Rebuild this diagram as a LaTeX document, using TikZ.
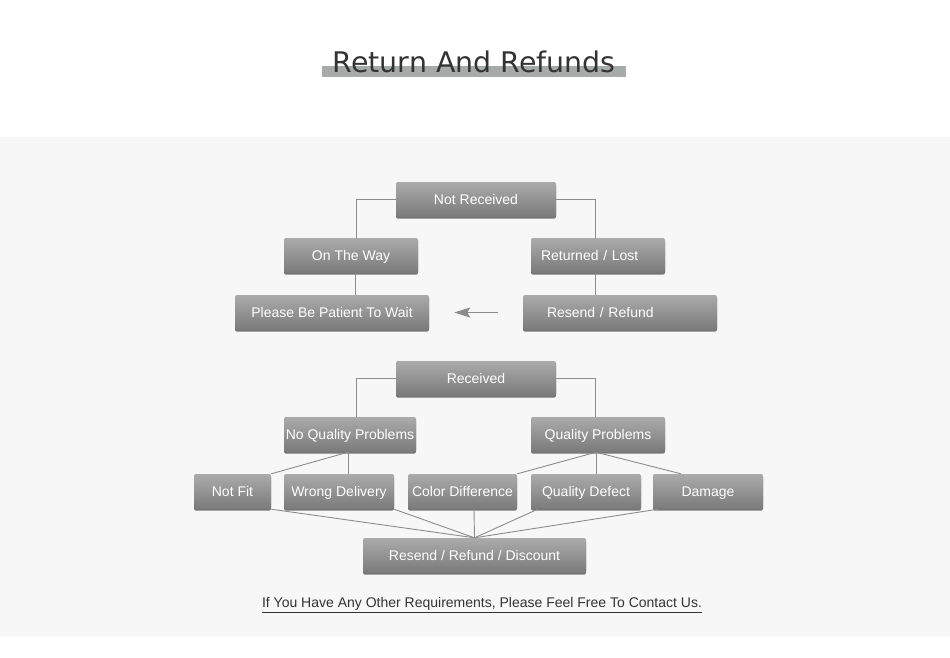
\documentclass[tikz,border=0pt]{standalone}
\usepackage{fontspec}
\setmainfont{Liberation Sans}
\newfontfamily\titlefont{DejaVu Sans}
\usetikzlibrary{shadows,arrows.meta}
\definecolor{bandgray}{HTML}{F7F7F7}
\definecolor{bargray}{HTML}{A4ABA9}
\definecolor{boxtop}{HTML}{ABABAB}
\definecolor{boxbot}{HTML}{7A7A7A}
\definecolor{linegray}{HTML}{8C8C8C}
\definecolor{txtdark}{HTML}{333333}
\tikzset{
  flowbox/.style={rectangle, rounded corners=2pt, minimum height=35pt, inner sep=0pt,
    text height=10pt, text depth=0pt,
    top color=boxtop, bottom color=boxbot, draw=none, text=white,
    font=\fontsize{14}{16}\selectfont,
    drop shadow={shadow xshift=0pt, shadow yshift=-1.6pt, fill=black!70, opacity=0.75}},
  conn/.style={draw=linegray, line width=0.9pt},
}
\begin{document}
\begin{tikzpicture}[x=1pt,y=-1pt]
\useasboundingbox (0,0) rectangle (950,657);
\fill[white] (0,0) rectangle (950,657);
\fill[bandgray] (0,137) rectangle (950,637);
% title
\fill[bargray] (322,66) rectangle (626,77);
\node[anchor=base, inner sep=0pt, text=txtdark, font=\titlefont\fontsize{28.4}{31}\selectfont] (title) at (474,72) {Return And Refunds};
% not received part
\node[flowbox, minimum width=160pt] (nr) at (476,199.5) {Not Received};
\node[flowbox, minimum width=134pt] (ow) at (351,255.5) {On The Way};
\node[flowbox, minimum width=134pt, text width=114pt, align=left] (rl) at (598,255.5) {Returned / Lost};
\node[flowbox, minimum width=194pt] (pw) at (332,312.5) {Please Be Patient To Wait};
\node[flowbox, minimum width=194pt, text width=146pt, align=left] (rr) at (620,312.5) {Resend / Refund};
\draw[conn] (nr.west) -| ([xshift=5pt]ow.north);
\draw[conn] (nr.east) -| ([xshift=-3pt]rl.north);
\draw[conn] ([xshift=4pt]ow.south) -- ([xshift=4pt]ow.south |- pw.north);
\draw[conn] ([xshift=-3pt]rl.south) -- ([xshift=-3pt]rl.south |- rr.north);
\draw[draw=linegray, line width=1.6pt, -{Stealth[length=16pt, width=10pt, inset=3pt]}] ([xshift=-25pt]rr.west) -- ([xshift=25pt]pw.east);
% received part
\node[flowbox, minimum width=160pt] (rc) at (476,378.5) {Received};
\node[flowbox, minimum width=132pt] (nq) at (350,434.5) {No Quality Problems};
\node[flowbox, minimum width=134pt] (qp) at (598,434.5) {Quality Problems};
\node[flowbox, minimum width=77pt] (nf) at (232.5,491.5) {Not Fit};
\node[flowbox, minimum width=110pt] (wd) at (339,491.5) {Wrong Delivery};
\node[flowbox, minimum width=109pt] (cd) at (462.5,491.5) {Color Difference};
\node[flowbox, minimum width=110pt] (qd) at (586,491.5) {Quality Defect};
\node[flowbox, minimum width=110pt] (dm) at (708,491.5) {Damage};
\node[flowbox, minimum width=223pt] (rd) at (474.5,555.5) {Resend / Refund / Discount};
\draw[conn] (rc.west) -| ([xshift=6pt]nq.north);
\draw[conn] (rc.east) -| ([xshift=-3pt]qp.north);
\draw[conn] ([xshift=-2pt]nq.south) -- (nf.north east);
\draw[conn] ([xshift=-2pt]nq.south) -- ([xshift=-2pt]nq.south |- wd.north);
\draw[conn] ([xshift=-2pt]qp.south) -- (cd.north east);
\draw[conn] ([xshift=-2pt]qp.south) -- ([xshift=-2pt]qp.south |- qd.north);
\draw[conn] ([xshift=-2pt]qp.south) -- ([xshift=-27pt]dm.north);
\draw[conn] (nf.south east) -- (rd.north);
\draw[conn] (wd.south east) -- (rd.north);
\draw[conn] ([xshift=11.5pt]cd.south) -- (rd.north);
\draw[conn] ([xshift=7pt]qd.south west) -- (rd.north);
\draw[conn] ([xshift=5pt]dm.south west) -- (rd.north);
% note
\node[anchor=base, inner sep=0pt, text=txtdark, font=\fontsize{14}{16}\selectfont] (note) at (482,607.5) {\underline{If You Have Any Other Requirements, Please Feel Free To Contact Us.}};
\end{tikzpicture}
\end{document}
